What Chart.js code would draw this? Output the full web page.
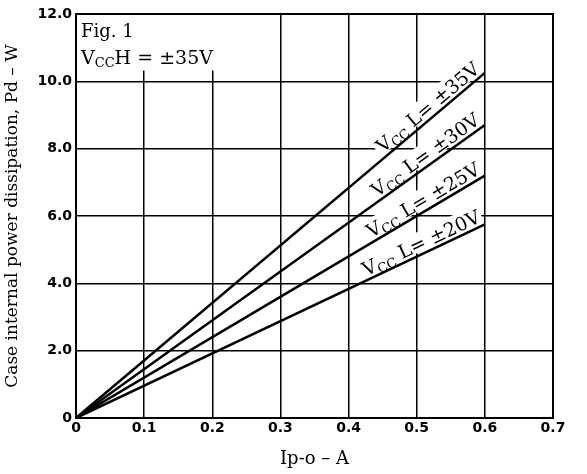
<!DOCTYPE html>
<html>
<head>
<meta charset="utf-8">
<script src="https://cdn.jsdelivr.net/npm/chart.js@4.4.1/dist/chart.umd.min.js"></script>
<style>
  html, body { margin: 0; padding: 0; background: #fff; }
  #wrap { width: 587px; height: 474px; }
</style>
</head>
<body>
<div id="wrap"><canvas id="pdChart"></canvas></div>
<script>
// Output current Ip-o (A)
const currentA = [0, 0.6];
// Pd (W) for each VCC L supply
const pdVcc35 = [0, 10.25];
const pdVcc30 = [0, 8.7];
const pdVcc25 = [0, 7.2];
const pdVcc20 = [0, 5.75];
const supplyLabels = ['\u00b135V', '\u00b130V', '\u00b125V', '\u00b120V'];

const xTickLabels = ['0', '0.1', '0.2', '0.3', '0.4', '0.5', '0.6', '0.7'];
const yTickLabels = ['0', '2.0', '4.0', '6.0', '8.0', '10.0', '12.0'];

const SERIF = '"DejaVu Serif", "Liberation Serif", serif';
const TICKFONT = { family: '"DejaVu Sans", sans-serif', size: 14, weight: 'bold' };

function toPoints(ys) {
    return currentA.map((x, i) => ({ x: x, y: ys[i] }));
}

// draws "V" + small "CC" + rest, starting at x, baseline y
function drawVcc(ctx, rest, x, y, size, measureOnly) {
    const big = size + 'px ' + SERIF;
    const small = Math.round(size * 0.68) + 'px ' + SERIF;
    ctx.font = big;
    const w1 = ctx.measureText('V').width;
    ctx.font = small;
    const w2 = ctx.measureText('CC').width;
    ctx.font = big;
    const w3 = ctx.measureText(rest).width;
    if (!measureOnly) {
        ctx.font = big;
        ctx.fillText('V', x, y);
        ctx.font = small;
        ctx.fillText('CC', x + w1, y + size * 0.18);
        ctx.font = big;
        ctx.fillText(rest, x + w1 + w2, y);
    }
    return w1 + w2 + w3;
}

const LABEL_END = 0.598;
const LABEL_SIZE = 19;

function labelFrame(chart, i) {
    const xs = chart.scales.x, ys = chart.scales.y;
    const data = chart.data.datasets[i].data;
    const p0 = { x: xs.getPixelForValue(data[0].x), y: ys.getPixelForValue(data[0].y) };
    const p1 = { x: xs.getPixelForValue(data[1].x), y: ys.getPixelForValue(data[1].y) };
    const ang = Math.atan2(p1.y - p0.y, p1.x - p0.x);
    const t = (xs.getPixelForValue(LABEL_END) - p0.x) / (p1.x - p0.x);
    return { x: p0.x + (p1.x - p0.x) * t, y: p0.y + (p1.y - p0.y) * t, ang: ang };
}

const annotations = {
    id: 'annotations',
    beforeDatasetsDraw(chart) {
        const ctx = chart.ctx;
        const xs = chart.scales.x, ys = chart.scales.y;
        const area = chart.chartArea;
        ctx.save();
        ctx.fillStyle = '#fff';
        // box behind figure caption
        ctx.fillRect(area.left + 1, area.top + 1,
            xs.getPixelForValue(0.225) - area.left, ys.getPixelForValue(10.35) - area.top);
        // white strips behind the line labels
        chart.data.datasets.forEach((ds, i) => {
            const f = labelFrame(chart, i);
            const w = drawVcc(ctx, ' L= ' + supplyLabels[i], 0, 0, LABEL_SIZE, true);
            ctx.save();
            ctx.translate(f.x, f.y);
            ctx.rotate(f.ang);
            ctx.fillRect(-w - 3, -LABEL_SIZE - 3, w + 5, LABEL_SIZE);
            ctx.restore();
        });
        ctx.restore();
    },
    afterDatasetsDraw(chart) {
        const ctx = chart.ctx;
        const area = chart.chartArea;
        ctx.save();
        ctx.fillStyle = '#000';
        ctx.textBaseline = 'alphabetic';
        ctx.textAlign = 'left';
        chart.data.datasets.forEach((ds, i) => {
            const f = labelFrame(chart, i);
            const rest = ' L= ' + supplyLabels[i];
            const w = drawVcc(ctx, rest, 0, 0, LABEL_SIZE, true);
            ctx.save();
            ctx.translate(f.x, f.y);
            ctx.rotate(f.ang);
            drawVcc(ctx, rest, -w, -4, LABEL_SIZE, false);
            ctx.restore();
        });
        // caption
        ctx.font = '18px ' + SERIF;
        ctx.fillText('Fig. 1', area.left + 5, area.top + 23);
        drawVcc(ctx, 'H = \u00b135V', area.left + 5, area.top + 50, 19, false);
        // plot frame
        ctx.strokeStyle = '#000';
        ctx.lineWidth = 2;
        ctx.strokeRect(area.left, area.top, area.right - area.left, area.bottom - area.top);
        ctx.restore();
    }
};

const lineStyle = { borderColor: '#000', borderWidth: 2.5, pointRadius: 0, fill: false, tension: 0 };

const ctx = document.getElementById('pdChart').getContext('2d');
window.myChart = new Chart(ctx, {
    type: 'line',
    data: {
        datasets: [
            Object.assign({ label: 'VCC L = \u00b135V', data: toPoints(pdVcc35) }, lineStyle),
            Object.assign({ label: 'VCC L = \u00b130V', data: toPoints(pdVcc30) }, lineStyle),
            Object.assign({ label: 'VCC L = \u00b125V', data: toPoints(pdVcc25) }, lineStyle),
            Object.assign({ label: 'VCC L = \u00b120V', data: toPoints(pdVcc20) }, lineStyle)
        ]
    },
    options: {
        responsive: true,
        maintainAspectRatio: false,
        animation: false,
        layout: { padding: { top: 14, right: 34, left: 0, bottom: 0 } },
        plugins: {
            legend: { display: false },
            tooltip: { enabled: false }
        },
        scales: {
            x: {
                type: 'linear',
                min: 0,
                max: 0.7,
                afterFit: (scale) => { scale.height = 56; },
                ticks: {
                    stepSize: 0.1,
                    color: '#000',
                    font: TICKFONT,
                    padding: 2,
                    maxRotation: 0,
                    callback: (v, i) => xTickLabels[i]
                },
                grid: { color: '#000', lineWidth: 1.5, drawTicks: false },
                border: { color: '#000', width: 2 },
                title: {
                    display: true,
                    text: 'Ip-o \u2013 A',
                    color: '#000',
                    font: { family: SERIF, size: 18 },
                    padding: { top: 5 }
                }
            },
            y: {
                min: 0,
                max: 12,
                afterFit: (scale) => { scale.width = 76; },
                ticks: {
                    stepSize: 2,
                    color: '#000',
                    font: TICKFONT,
                    padding: 4,
                    callback: (v, i) => yTickLabels[i]
                },
                grid: { color: '#000', lineWidth: 1.5, drawTicks: false },
                border: { color: '#000', width: 2 },
                title: {
                    display: true,
                    text: 'Case internal power dissipation, Pd \u2013 W',
                    color: '#000',
                    font: { family: SERIF, size: 17 },
                    padding: { bottom: 0, top: 2 }
                }
            }
        }
    },
    plugins: [annotations]
});
</script>
</body>
</html>
